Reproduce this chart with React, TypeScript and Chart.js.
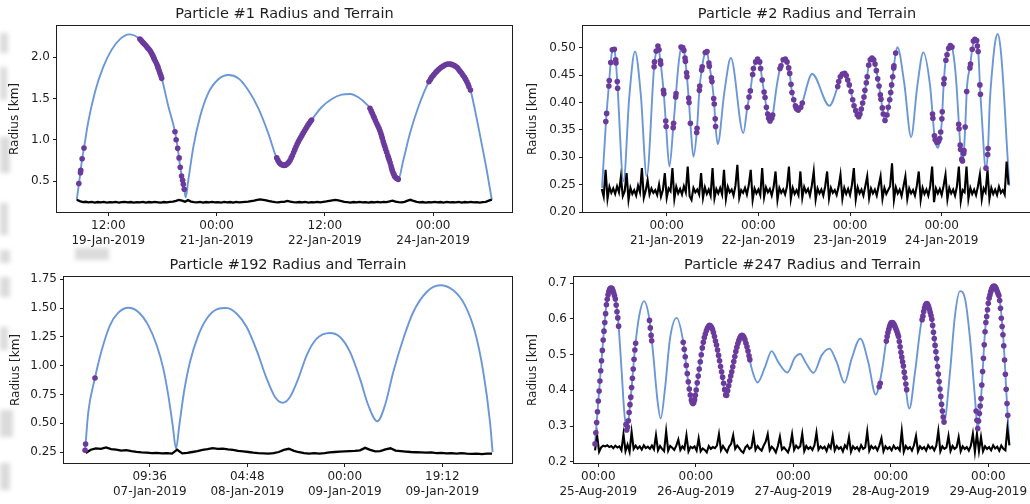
import React, { useEffect, useRef } from 'react';
import { Chart, registerables } from 'chart.js';

Chart.register(...registerables);

type Pt = [number, number];

// ---------------- Panel 1 : Particle #1 (hours from 00:00 19-Jan-2019) ----------------
const p1Title = 'Particle #1 Radius and Terrain';
const p1Radius: Pt[] = [
  [1.5,0.27],[2.26,0.47],[3.36,0.78],[3.92,0.90],[5.35,1.22],[7.58,1.58],[10.3,1.88],[13.1,2.09],[15.9,2.22],[18.9,2.278],
  [22.54,2.222],[24.77,2.128],[27.3,1.976],[29.75,1.745],[32.0,1.40],[34.17,1.098],[35.07,0.896],[35.94,0.661],[36.7,0.51],[37.3,0.39],
  [37.73,0.302],[38.6,0.51],[40.3,0.916],[42.5,1.28],[45.2,1.563],[48.6,1.733],[51.9,1.785],[55.2,1.745],[58.5,1.603],[61.9,1.38],
  [65.2,1.078],[68.0,0.78],[70.5,0.69],[73.0,0.795],[75.2,0.977],[77.4,1.118],[79.6,1.24],[82.9,1.394],[86.3,1.494],[89.6,1.547],
  [92.4,1.555],[95.1,1.515],[97.9,1.43],[99.0,1.381],[100.4,1.268],[102.0,1.139],[103.65,0.949],[105.4,0.755],[106.9,0.585],[107.9,0.533],
  [108.4,0.52],[110.1,0.755],[112.3,1.078],[115.1,1.40],[118.6,1.704],[121.3,1.834],[123.4,1.894],[125.3,1.919],[127.8,1.882],[129.5,1.806],
  [131.2,1.704],[132.4,1.603],[133.9,1.36],[136.1,0.957],[137.8,0.633],[139.5,0.27]
];
const p1Dots: Pt[] = [
  [2.2,0.47],[2.75,0.6],[2.85,0.63],[3.3,0.77],[3.92,0.9],
  [22.5,2.222],[22.9,2.206],[23.3,2.189],[23.6,2.175],[24.0,2.161],[24.4,2.145],[24.8,2.128],[25.1,2.113],[25.5,2.097],[25.9,2.078],
  [26.2,2.06],[26.5,2.04],[26.8,2.02],[27.1,1.998],[27.3,1.976],[27.7,1.948],[28.1,1.919],[28.4,1.892],[28.6,1.866],[28.9,1.836],
  [29.2,1.806],[29.5,1.775],[29.75,1.745],
  [34.17,1.098],[34.55,1.0],[35.07,0.896],[35.55,0.78],[35.92,0.667],[36.35,0.56],[36.7,0.51],[36.95,0.46],[37.25,0.40],
  [68.0,0.78],[68.4,0.75],[68.8,0.725],[69.2,0.71],[69.6,0.70],[70.0,0.693],[70.4,0.69],[70.8,0.692],[71.2,0.70],[71.6,0.712],
  [72.0,0.728],[72.4,0.748],[72.8,0.78],[73.2,0.81],[73.6,0.845],[74.0,0.88],[74.4,0.915],[74.8,0.948],[75.2,0.977],[75.6,1.005],
  [76.0,1.03],[76.4,1.056],[76.8,1.082],[77.2,1.106],[77.6,1.13],[78.0,1.155],[78.4,1.178],[78.8,1.2],[79.2,1.22],[79.6,1.24],
  [99.0,1.381],[99.4,1.35],[99.77,1.321],[100.1,1.292],[100.4,1.268],[100.8,1.234],[101.2,1.2],[101.6,1.17],[102.0,1.139],[102.3,1.108],
  [102.6,1.078],[102.85,1.048],[103.1,1.018],[103.4,0.978],[103.65,0.949],[103.9,0.92],[104.2,0.884],[104.55,0.848],[104.9,0.81],[105.15,0.78],
  [105.4,0.755],[105.7,0.72],[106.0,0.682],[106.2,0.655],[106.4,0.628],[106.65,0.603],[106.9,0.585],[107.1,0.565],[107.3,0.552],[107.6,0.54],
  [107.9,0.533],[108.15,0.526],[108.4,0.52],
  [118.6,1.704],[119.1,1.732],[119.5,1.757],[120.0,1.78],[120.4,1.797],[120.9,1.818],[121.3,1.834],[121.8,1.852],[122.3,1.866],[122.8,1.881],
  [123.4,1.894],[123.9,1.906],[124.5,1.915],[125.0,1.919],[125.6,1.919],[126.1,1.914],[126.7,1.907],[127.2,1.896],[127.8,1.882],[128.2,1.866],
  [128.6,1.846],[129.0,1.828],[129.5,1.806],[129.9,1.783],[130.4,1.757],[130.8,1.732],[131.2,1.704],[131.6,1.673],[131.9,1.643],[132.4,1.603]
];
const p1TerrainStart = 1.5;
const p1TerrainStep = 1;
const p1Terrain = [
  0.272,0.256,0.243,0.248,0.240,0.246,0.238,0.245,0.241,0.247,
  0.239,0.244,0.240,0.246,0.238,0.243,0.247,0.240,0.245,0.239,
  0.244,0.241,0.247,0.239,0.245,0.240,0.246,0.242,0.238,0.245,
  0.241,0.247,0.250,0.258,0.270,0.262,0.249,0.268,0.251,0.244,
  0.240,0.246,0.239,0.245,0.241,0.247,0.240,0.244,0.239,0.246,
  0.241,0.245,0.239,0.246,0.240,0.244,0.247,0.250,0.256,0.262,
  0.270,0.276,0.271,0.265,0.257,0.249,0.244,0.240,0.246,0.248,
  0.258,0.250,0.244,0.240,0.245,0.240,0.246,0.239,0.244,0.240,
  0.246,0.241,0.247,0.252,0.259,0.265,0.270,0.264,0.256,0.248,
  0.243,0.239,0.245,0.240,0.246,0.241,0.244,0.239,0.245,0.240,
  0.246,0.241,0.247,0.243,0.252,0.262,0.250,0.243,0.240,0.248,
  0.262,0.272,0.258,0.246,0.240,0.245,0.239,0.244,0.240,0.246,
  0.241,0.245,0.239,0.246,0.240,0.244,0.241,0.247,0.239,0.245,
  0.240,0.246,0.241,0.244,0.239,0.245,0.248,0.262,0.275
];
const p1XTicks = [12, 48, 84, 120];
const p1XLabels = [['12:00', '19-Jan-2019'], ['00:00', '21-Jan-2019'], ['12:00', '22-Jan-2019'], ['00:00', '24-Jan-2019']];
const p1YTicks = [0.5, 1.0, 1.5, 2.0];

// ---------------- Panel 2 : Particle #2 (hours from 00:00 20-Jan-2019) ----------------
const p2Title = 'Particle #2 Radius and Terrain';
const p2Radius: Pt[] = [
  [7.06,0.244],[8.1,0.365],[8.9,0.435],[9.34,0.473],[9.76,0.496],[10.0,0.499],[10.28,0.497],[10.7,0.474],[11.1,0.432],[12.7,0.256],
  [14.2,0.41],[15.7,0.493],[17.23,0.413],[18.76,0.265],[20.7,0.465],[21.25,0.494],[21.7,0.503],[22.4,0.473],[23.2,0.419],[23.8,0.361],
  [24.7,0.283],[25.75,0.358],[26.4,0.413],[27.1,0.47],[27.9,0.502],[28.5,0.495],[28.85,0.478],[29.3,0.447],[29.8,0.404],[30.3,0.352],
  [31.0,0.301],[31.9,0.349],[32.6,0.427],[33.2,0.461],[33.7,0.482],[34.3,0.494],[34.6,0.492],[35.1,0.469],[35.8,0.441],[36.4,0.40],
  [36.8,0.356],[37.35,0.324],[39.08,0.418],[40.8,0.481],[44.06,0.344],[45.1,0.391],[45.9,0.421],[46.6,0.457],[47.3,0.474],[47.8,0.479],
  [48.35,0.474],[49.0,0.441],[49.6,0.415],[50.1,0.391],[50.6,0.373],[51.05,0.366],[51.5,0.371],[51.8,0.378],[52.7,0.425],[53.67,0.462],
  [54.5,0.478],[55.05,0.479],[55.5,0.474],[56.2,0.453],[56.8,0.418],[57.7,0.394],[58.46,0.386],[59.1,0.391],[59.5,0.399],[62.1,0.452],
  [66.6,0.394],[68.78,0.429],[69.5,0.447],[70.3,0.453],[71.0,0.449],[71.8,0.432],[72.7,0.405],[73.5,0.385],[74.27,0.374],[74.96,0.388],
  [75.66,0.41],[76.3,0.438],[76.9,0.468],[77.5,0.48],[78.2,0.478],[78.9,0.458],[79.6,0.43],[80.2,0.403],[80.7,0.379],[81.16,0.367],
  [81.68,0.377],[82.4,0.405],[82.9,0.432],[83.44,0.463],[83.96,0.49],[84.4,0.501],[86.2,0.435],[88.0,0.337],[89.6,0.429],[91.2,0.491],
  [93.0,0.428],[93.65,0.375],[94.1,0.339],[94.6,0.322],[95.0,0.317],[95.5,0.33],[96.0,0.362],[96.5,0.43],[97.0,0.475],[97.6,0.495],
  [98.3,0.504],[98.7,0.501],[99.4,0.47],[99.9,0.43],[100.6,0.35],[101.0,0.31],[101.4,0.293],[101.8,0.31],[102.2,0.36],[102.6,0.425],
  [103.4,0.465],[104.0,0.497],[104.6,0.515],[105.2,0.513],[105.6,0.491],[106.1,0.42],[106.8,0.34],[107.5,0.277],[108.1,0.31],[108.6,0.4],
  [109.3,0.465],[110.0,0.51],[110.7,0.525],[111.4,0.5],[112.2,0.428],[113.0,0.33],[113.7,0.248]
];
const p2Dots: Pt[] = [
  [8.05,0.365],[8.27,0.38],[8.85,0.43],[8.95,0.44],[9.34,0.473],[9.76,0.496],[10.28,0.497],[10.64,0.478],[10.72,0.472],[11.05,0.438],[11.15,0.426],
  [20.7,0.465],[20.8,0.474],[21.25,0.494],[21.7,0.503],[22.0,0.496],[22.35,0.476],[22.45,0.47],[23.15,0.422],[23.25,0.416],[23.75,0.366],[23.85,0.356],
  [25.7,0.354],[25.8,0.362],[26.35,0.41],[26.45,0.416],[27.75,0.501],[28.2,0.5],[28.5,0.495],[28.8,0.481],[28.9,0.475],[29.2,0.454],
  [29.3,0.447],[29.75,0.408],[29.85,0.4],[30.2,0.362],[31.85,0.345],[31.95,0.353],[32.55,0.422],[32.65,0.43],[33.15,0.459],[33.3,0.465],
  [34.1,0.491],[34.55,0.493],[35.05,0.472],[35.15,0.466],[35.7,0.445],[35.85,0.438],[36.3,0.407],[36.45,0.397],[36.7,0.37],[36.8,0.356],
  [45.1,0.391],[45.55,0.41],[45.9,0.421],[46.5,0.451],[46.7,0.462],[47.3,0.474],[47.8,0.479],[48.35,0.474],[48.6,0.462],[49.0,0.441],
  [49.5,0.419],[49.75,0.409],[50.1,0.391],[50.45,0.379],[50.7,0.371],[51.05,0.366],[51.5,0.371],[51.75,0.377],
  [53.67,0.462],[53.93,0.467],[54.5,0.478],[55.05,0.479],[55.5,0.474],[55.94,0.463],[56.2,0.453],[56.55,0.433],[56.8,0.418],[57.26,0.405],
  [57.7,0.394],[57.9,0.39],[58.1,0.388],[58.46,0.386],[59.1,0.391],[59.5,0.399],
  [68.78,0.429],[69.04,0.438],[69.46,0.447],[69.98,0.452],[70.6,0.453],[71.0,0.449],[71.4,0.441],[71.8,0.432],[72.26,0.42],[72.7,0.405],
  [73.05,0.394],[73.5,0.385],[73.9,0.377],[74.27,0.374],[74.6,0.379],[74.96,0.388],[75.3,0.399],[75.66,0.41],[75.9,0.422],[76.27,0.436],
  [76.5,0.447],[76.9,0.468],[77.3,0.478],[77.75,0.481],[78.2,0.478],[78.55,0.47],[78.9,0.458],[79.25,0.443],[79.6,0.43],[79.93,0.414],
  [80.1,0.406],[80.45,0.39],[80.7,0.379],[81.16,0.367],[81.68,0.377],[82.0,0.391],[82.4,0.405],[82.65,0.418],[82.9,0.432],[83.18,0.447],
  [83.44,0.463],[83.5,0.467],[83.96,0.49],
  [93.6,0.379],[93.7,0.371],[94.1,0.339],[94.3,0.332],[94.75,0.327],[95.2,0.329],[95.5,0.334],[95.75,0.346],[96.05,0.37],[96.15,0.383],
  [96.55,0.434],[96.65,0.443],[97.1,0.477],[97.4,0.487],[97.85,0.499],[98.26,0.504],[98.7,0.501],
  [100.45,0.36],[100.55,0.352],[100.85,0.322],[100.95,0.314],[101.25,0.296],[101.45,0.293],[101.75,0.307],[101.85,0.312],[102.15,0.355],[102.55,0.42],
  [103.4,0.463],[103.55,0.47],[104.0,0.497],[104.3,0.512],[104.7,0.515],[105.15,0.513],[105.35,0.503],[105.55,0.493],[106.0,0.432],[106.15,0.415],
  [107.6,0.28],[108.05,0.305],[108.15,0.316]
];
const p2TerrainStart = 7.0;
const p2TerrainStep = 0.5;
const p2Terrain = [
  0.242,0.228,0.277,0.224,0.246,0.235,0.243,0.233,0.247,0.236,
  0.264,0.229,0.238,0.271,0.222,0.244,0.233,0.240,0.230,0.248,
  0.236,0.280,0.226,0.239,0.258,0.232,0.243,0.235,0.240,0.231,
  0.250,0.228,0.240,0.271,0.226,0.243,0.238,0.280,0.224,0.246,
  0.234,0.242,0.232,0.247,0.236,0.283,0.229,0.222,0.244,0.236,
  0.241,0.232,0.271,0.226,0.245,0.233,0.241,0.230,0.280,0.225,
  0.242,0.234,0.244,0.232,0.277,0.224,0.246,0.236,0.241,0.230,
  0.248,0.286,0.226,0.240,0.235,0.244,0.232,0.250,0.277,0.222,
  0.243,0.234,0.241,0.231,0.280,0.227,0.245,0.236,0.242,0.230,
  0.246,0.274,0.222,0.244,0.235,0.241,0.232,0.247,0.283,0.224,
  0.244,0.233,0.240,0.231,0.274,0.226,0.246,0.236,0.242,0.230,
  0.248,0.274,0.223,0.243,0.234,0.241,0.230,0.247,0.274,0.225,
  0.244,0.235,0.240,0.231,0.246,0.268,0.224,0.244,0.233,0.242,
  0.231,0.249,0.280,0.223,0.245,0.234,0.241,0.230,0.247,0.265,
  0.225,0.243,0.234,0.241,0.230,0.248,0.265,0.224,0.244,0.233,
  0.240,0.247,0.289,0.222,0.245,0.234,0.241,0.229,0.247,0.265,
  0.224,0.243,0.234,0.240,0.230,0.248,0.274,0.222,0.244,0.233,
  0.241,0.230,0.247,0.283,0.218,0.243,0.234,0.242,0.231,0.248,
  0.268,0.223,0.244,0.234,0.241,0.230,0.247,0.283,0.220,0.240,
  0.236,0.283,0.224,0.244,0.233,0.241,0.231,0.247,0.268,0.223,
  0.243,0.236,0.277,0.224,0.244,0.233,0.241,0.231,0.246,0.235,
  0.240,0.232,0.292,0.250
];
const p2XTicks = [24, 48, 72, 96];
const p2XLabels = [['00:00', '21-Jan-2019'], ['00:00', '22-Jan-2019'], ['00:00', '23-Jan-2019'], ['00:00', '24-Jan-2019']];
const p2YTicks = [0.2, 0.25, 0.3, 0.35, 0.4, 0.45, 0.5];

// ---------------- Panel 3 : Particle #192 (hours from 00:00 07-Jan-2019) ----------------
const p3Title = 'Particle #192 Radius and Terrain';
const p3Radius: Pt[] = [
  [-3.14,0.25],[-2.49,0.597],[-1.17,0.893],[0.15,1.133],[1.78,1.35],[3.42,1.46],[5.39,1.503],[7.36,1.466],[9.32,1.35],[10.98,1.177],
  [12.28,0.974],[13.26,0.742],[14.13,0.482],[14.78,0.279],[15.43,0.482],[16.35,0.771],[17.53,1.032],[19.17,1.263],[20.82,1.408],[22.79,1.489],
  [24.76,1.501],[26.73,1.451],[28.69,1.336],[30.66,1.133],[32.63,0.887],[34.27,0.728],[35.78,0.678],[37.22,0.728],[38.85,0.887],[40.5,1.09],
  [42.47,1.234],[45.09,1.284],[47.06,1.249],[49.03,1.119],[50.99,0.887],[52.63,0.656],[54.4,0.517],[55.92,0.656],[57.55,0.945],[59.52,1.234],
  [61.49,1.466],[64.13,1.64],[66.75,1.698],[69.36,1.654],[71.67,1.524],[73.64,1.292],[75.27,0.945],[76.59,0.51],[77.1,0.25]
];
const p3Dots: Pt[] = [[-3.12,0.265],[-3.02,0.32],[-1.17,0.893]];
const p3TerrainStart = -3;
const p3TerrainStep = 1;
const p3Terrain = [
  0.241,0.270,0.282,0.278,0.290,0.275,0.270,0.262,0.266,0.258,
  0.252,0.247,0.244,0.240,0.243,0.238,0.240,0.236,0.270,0.238,
  0.242,0.250,0.258,0.268,0.274,0.284,0.278,0.280,0.272,0.268,
  0.260,0.256,0.250,0.244,0.240,0.238,0.236,0.240,0.250,0.268,
  0.278,0.260,0.248,0.240,0.236,0.240,0.236,0.240,0.246,0.250,
  0.254,0.256,0.258,0.260,0.264,0.286,0.268,0.256,0.258,0.272,
  0.282,0.262,0.258,0.254,0.250,0.248,0.246,0.244,0.246,0.240,
  0.242,0.238,0.240,0.236,0.240,0.236,0.233,0.236,0.232,0.236,
  0.236
];
const p3XTicks = [9.6, 28.8, 48, 67.2];
const p3XLabels = [['09:36', '07-Jan-2019'], ['04:48', '08-Jan-2019'], ['00:00', '09-Jan-2019'], ['19:12', '09-Jan-2019']];
const p3YTicks = [0.25, 0.5, 0.75, 1.0, 1.25, 1.5, 1.75];

// ---------------- Panel 4 : Particle #247 (hours from 00:00 25-Aug-2019) ----------------
const p4Title = 'Particle #247 Radius and Terrain';
const p4Radius: Pt[] = [
  [-0.81,0.25],[0.25,0.405],[1.23,0.545],[2.07,0.648],[3.13,0.687],[4.1,0.662],[4.92,0.592],[5.76,0.451],[6.4,0.339],[6.99,0.288],
  [7.97,0.377],[9.03,0.517],[10.09,0.61],[11.25,0.65],[12.55,0.601],[13.54,0.498],[14.52,0.377],[15.36,0.321],[16.42,0.405],[17.65,0.545],
  [19.3,0.603],[20.92,0.535],[22.15,0.423],[23.24,0.363],[24.37,0.423],[25.69,0.526],[27.32,0.582],[29.14,0.526],[30.37,0.451],[31.43,0.384],
  [32.84,0.451],[34.07,0.521],[35.3,0.554],[36.53,0.526],[37.76,0.461],[39.2,0.422],[41.03,0.465],[42.68,0.51],[44.3,0.479],[46.55,0.45],
  [48.4,0.492],[49.7,0.502],[51.0,0.479],[53.0,0.449],[54.98,0.498],[56.9,0.517],[58.68,0.479],[60.6,0.421],[62.37,0.489],[64.5,0.545],
  [66.46,0.479],[68.28,0.388],[69.76,0.451],[70.99,0.545],[72.22,0.59],[73.85,0.554],[75.08,0.47],[76.56,0.349],[77.96,0.451],[79.43,0.585],
  [80.84,0.643],[82.07,0.601],[83.3,0.489],[84.53,0.358],[85.1,0.311],[86.57,0.451],[87.8,0.61],[89.04,0.678],[90.27,0.657],[91.5,0.545],
  [92.73,0.377],[93.39,0.292],[94.2,0.377],[95.19,0.564],[96.17,0.657],[97.4,0.692],[98.63,0.666],[99.7,0.545],[100.53,0.377],[101.17,0.25]
];
const p4Dots: Pt[] = [
  [-0.8,0.25],[-0.6,0.281],[-0.4,0.31],[-0.2,0.34],[0.0,0.37],[0.2,0.398],[0.4,0.426],[0.6,0.455],[0.8,0.483],[1.0,0.512],
  [1.2,0.541],[1.4,0.566],[1.6,0.59],[1.8,0.615],[2.0,0.64],[2.2,0.655],[2.4,0.668],[2.6,0.677],[2.8,0.683],[3.0,0.686],
  [3.2,0.687],[3.4,0.685],[3.6,0.68],[3.8,0.673],[4.0,0.665],[4.2,0.656],[4.4,0.639],[4.6,0.62],[4.8,0.603],[5.0,0.58],
  [6.8,0.304],[7.0,0.289],[7.2,0.297],[7.4,0.315],[7.6,0.338],[7.8,0.36],[8.0,0.381],[8.2,0.408],[8.4,0.434],[8.6,0.46],
  [8.8,0.487],[9.0,0.513],[9.2,0.532],
  [12.6,0.596],[12.8,0.575],[13.0,0.554],[13.15,0.539],
  [20.9,0.535],[21.15,0.515],[21.4,0.494],[21.65,0.47],[21.9,0.447],[22.15,0.424],[22.4,0.404],[22.65,0.387],[22.9,0.373],[23.1,0.366],
  [23.3,0.363],[23.5,0.366],[23.7,0.374],[23.9,0.386],[24.1,0.401],[24.35,0.421],[24.6,0.44],[24.85,0.46],[25.1,0.48],[25.35,0.5],
  [25.6,0.519],[25.85,0.535],[26.1,0.548],[26.35,0.558],[26.6,0.567],[26.85,0.574],[27.1,0.579],[27.35,0.582],[27.6,0.581],[27.85,0.577],
  [28.1,0.571],[28.35,0.562],[28.6,0.551],[28.85,0.538],[29.1,0.527],[29.35,0.513],[29.6,0.498],[29.85,0.483],[30.1,0.467],[30.35,0.452],
  [30.6,0.437],[30.85,0.42],[31.1,0.402],[31.35,0.387],[31.6,0.386],[31.85,0.399],[32.1,0.413],[32.35,0.427],[32.6,0.44],[32.85,0.452],
  [33.1,0.466],[33.35,0.481],[33.6,0.495],[33.85,0.509],[34.1,0.521],[34.35,0.531],[34.6,0.54],[34.85,0.547],[35.1,0.552],[35.35,0.554],
  [35.6,0.553],[35.85,0.549],[36.1,0.542],[36.35,0.532],[36.6,0.522],[36.85,0.51],[37.1,0.497],[37.3,0.486],
  [69.15,0.41],[69.4,0.42],
  [70.9,0.538],[71.1,0.551],[71.3,0.562],[71.5,0.571],[71.7,0.579],[71.9,0.585],[72.1,0.589],[72.3,0.59],[72.5,0.589],[72.7,0.586],
  [72.9,0.582],[73.1,0.577],[73.3,0.571],[73.5,0.565],[73.7,0.558],[73.9,0.551],[74.1,0.537],[74.3,0.522],[74.5,0.507],[74.7,0.493],
  [74.9,0.48],[75.1,0.468],[75.3,0.451],[75.5,0.435],[75.7,0.418],[75.9,0.402],
  [79.7,0.598],[79.9,0.608],[80.1,0.621],[80.3,0.631],[80.5,0.638],[80.7,0.642],[80.9,0.643],[81.1,0.64],[81.3,0.635],[81.5,0.627],
  [81.7,0.619],[81.9,0.61],[82.1,0.599],[82.3,0.582],[82.5,0.563],[82.7,0.545],[82.9,0.526],[83.1,0.508],[83.3,0.489],[83.5,0.467],
  [83.7,0.446],[83.9,0.425],[84.1,0.404],[84.3,0.383],[84.5,0.361],[84.7,0.342],[84.9,0.325],[85.1,0.311],
  [93.0,0.342],[93.2,0.316],[93.4,0.293],[93.6,0.314],[93.8,0.335],[94.0,0.356],[94.2,0.377],[94.4,0.415],[94.6,0.453],[94.8,0.49],
  [95.0,0.528],[95.2,0.564],[95.4,0.59],[95.6,0.607],[95.8,0.626],[96.0,0.644],[96.2,0.658],[96.4,0.667],[96.6,0.676],[96.8,0.683],
  [97.0,0.688],[97.2,0.691],[97.4,0.692],[97.6,0.691],[97.8,0.688],[98.0,0.683],[98.2,0.677],[98.4,0.671],[98.6,0.666],[98.8,0.652],
  [99.0,0.63],[99.2,0.602],[99.4,0.579],[99.6,0.556],[99.8,0.525],[100.0,0.485],[100.2,0.445],[100.4,0.403],[100.6,0.363],[100.8,0.33]
];
const p4TerrainStart = -0.8;
const p4TerrainStep = 0.5;
const p4Terrain = [
  0.232,0.274,0.228,0.240,0.245,0.243,0.246,0.241,0.244,0.238,
  0.245,0.240,0.243,0.232,0.277,0.230,0.248,0.228,0.283,0.236,
  0.245,0.237,0.243,0.234,0.246,0.238,0.242,0.236,0.245,0.235,
  0.274,0.232,0.244,0.236,0.230,0.285,0.231,0.244,0.239,0.233,
  0.245,0.262,0.233,0.243,0.236,0.274,0.229,0.242,0.238,0.243,
  0.231,0.265,0.229,0.237,0.233,0.226,0.244,0.236,0.241,0.238,
  0.245,0.277,0.232,0.244,0.235,0.227,0.242,0.250,0.274,0.236,
  0.245,0.238,0.230,0.225,0.240,0.246,0.236,0.240,0.274,0.233,
  0.244,0.236,0.231,0.245,0.256,0.277,0.232,0.242,0.236,0.226,
  0.244,0.270,0.234,0.240,0.233,0.226,0.244,0.277,0.233,0.245,
  0.238,0.243,0.278,0.230,0.244,0.236,0.241,0.233,0.246,0.281,
  0.234,0.243,0.237,0.242,0.230,0.247,0.238,0.272,0.232,0.244,
  0.236,0.241,0.229,0.246,0.238,0.269,0.228,0.243,0.236,0.241,
  0.231,0.246,0.236,0.240,0.284,0.231,0.244,0.237,0.242,0.232,
  0.246,0.266,0.229,0.243,0.236,0.241,0.232,0.245,0.236,0.240,
  0.232,0.286,0.228,0.244,0.236,0.241,0.231,0.246,0.272,0.229,
  0.243,0.236,0.241,0.231,0.246,0.237,0.242,0.232,0.245,0.286,
  0.229,0.243,0.236,0.240,0.272,0.230,0.244,0.236,0.241,0.269,
  0.229,0.243,0.236,0.241,0.231,0.245,0.278,0.228,0.278,0.230,
  0.269,0.229,0.243,0.236,0.241,0.232,0.246,0.237,0.242,0.231,
  0.245,0.236,0.232,0.293,0.246
];
const p4XTicks = [0, 24, 48, 72, 96];
const p4XLabels = [['00:00', '25-Aug-2019'], ['00:00', '26-Aug-2019'], ['00:00', '27-Aug-2019'], ['00:00', '28-Aug-2019'], ['00:00', '29-Aug-2019']];
const p4YTicks = [0.2, 0.3, 0.4, 0.5, 0.6, 0.7];

// ---------------- styling / layout ----------------
const FONT = 'DejaVu Sans';
const TEXT = '#1e1e1e';
const BLUE = '#6b97d8';
const PURPLE = '#6a3a9c';
const TERRAIN = '#000000';

interface PanelSpec {
  title: string;
  radius: Pt[];
  dots: Pt[];
  terrainStart: number;
  terrainStep: number;
  terrain: number[];
  terrainWidth: number;
  xMin: number; xMax: number; xTicks: number[]; xLabels: string[][];
  yMin: number; yMax: number; yTicks: number[]; yDecimals: number;
  x: number; y: number; w: number; h: number;
  areaLeft: number; areaRight: number; areaTop: number; areaBottom: number;
  titleY: number; yTitleX: number;
}

const panels: PanelSpec[] = [
  {
    title: p1Title, radius: p1Radius, dots: p1Dots, terrainStart: p1TerrainStart, terrainStep: p1TerrainStep, terrain: p1Terrain, terrainWidth: 2.3,
    xMin: -5.05, xMax: 146.21, xTicks: p1XTicks, xLabels: p1XLabels,
    yMin: 0.1241, yMax: 2.3795, yTicks: p1YTicks, yDecimals: 1,
    x: 0, y: 0, w: 515, h: 252, areaLeft: 57, areaRight: 512, areaTop: 26, areaBottom: 212, titleY: 14, yTitleX: 15,
  },
  {
    title: p2Title, radius: p2Radius, dots: p2Dots, terrainStart: p2TerrainStart, terrainStep: p2TerrainStep, terrain: p2Terrain, terrainWidth: 2.1,
    xMin: 2.08, xMax: 119.39, xTicks: p2XTicks, xLabels: p2XLabels,
    yMin: 0.2, yMax: 0.5395, yTicks: p2YTicks, yDecimals: 2,
    x: 515, y: 0, w: 520, h: 252, areaLeft: 68, areaRight: 516, areaTop: 26, areaBottom: 212, titleY: 14, yTitleX: 18.3,
  },
  {
    title: p3Title, radius: p3Radius, dots: p3Dots, terrainStart: p3TerrainStart, terrainStep: p3TerrainStep, terrain: p3Terrain, terrainWidth: 2.3,
    xMin: -7.27, xMax: 80.92, xTicks: p3XTicks, xLabels: p3XLabels,
    yMin: 0.1545, yMax: 1.770, yTicks: p3YTicks, yDecimals: 2,
    x: 0, y: 252, w: 515, h: 252, areaLeft: 64, areaRight: 512, areaTop: 25, areaBottom: 211, titleY: 13, yTitleX: 16,
  },
  {
    title: p4Title, radius: p4Radius, dots: p4Dots, terrainStart: p4TerrainStart, terrainStep: p4TerrainStep, terrain: p4Terrain, terrainWidth: 2.1,
    xMin: -5.98, xMax: 106.51, xTicks: p4XTicks, xLabels: p4XLabels,
    yMin: 0.1964, yMax: 0.7177, yTicks: p4YTicks, yDecimals: 1,
    x: 515, y: 252, w: 520, h: 252, areaLeft: 59, areaRight: 516, areaTop: 25, areaBottom: 211, titleY: 13, yTitleX: 18.3,
  },
];

// faint grey smudges along the left edge of the picture
const smudges = [
  { x: 0, y: 33, w: 8, h: 20 }, { x: 0, y: 67, w: 7, h: 33 }, { x: 0, y: 137, w: 10, h: 36 },
  { x: 0, y: 203, w: 8, h: 32 }, { x: 75, y: 248, w: 34, h: 12 }, { x: 0, y: 250, w: 10, h: 13 },
  { x: 0, y: 277, w: 10, h: 20 }, { x: 0, y: 327, w: 8, h: 23 }, { x: 0, y: 410, w: 13, h: 27 },
  { x: 0, y: 463, w: 10, h: 27 },
];

const boxPlugin = {
  id: 'axesBox',
  afterDraw(chart: any) {
    const { ctx, chartArea: a } = chart;
    ctx.save();
    ctx.strokeStyle = TEXT;
    ctx.lineWidth = 1;
    const l = Math.floor(a.left) - 0.5;
    const t = Math.floor(a.top) - 0.5;
    const r = Math.floor(a.right) + 0.5;
    const b = Math.floor(a.bottom) + 0.5;
    ctx.strokeRect(l, t, r - l, b - t);
    ctx.restore();
  },
};

function Panel({ spec }: { spec: PanelSpec }) {
  const ref = useRef<HTMLCanvasElement>(null);
  useEffect(() => {
    const s = spec;
    const titleSize = 14.5;
    const lh = titleSize * 1.2;
    const titlePadTop = s.titleY - lh / 2;
    const titlePadBottom = s.areaTop - titlePadTop - lh;
    const tickFont = { family: FONT, size: 12 };
    const chart = new Chart(ref.current as HTMLCanvasElement, {
      type: 'line',
      data: {
        datasets: [
          {
            data: s.dots.map(([x, y]) => ({ x, y })),
            showLine: false,
            pointRadius: 2.8,
            pointHoverRadius: 2.8,
            pointBorderWidth: 0,
            pointBackgroundColor: PURPLE,
            borderColor: PURPLE,
            backgroundColor: PURPLE,
          },
          {
            data: s.terrain.map((y, i) => ({ x: s.terrainStart + i * s.terrainStep, y })),
            borderColor: TERRAIN,
            borderWidth: s.terrainWidth,
            borderJoinStyle: 'miter',
            pointRadius: 0,
            tension: 0,
          },
          {
            data: s.radius.map(([x, y]) => ({ x, y })),
            borderColor: BLUE,
            borderWidth: 1.9,
            pointRadius: 0,
            cubicInterpolationMode: 'monotone',
          },
        ],
      } as any,
      options: {
        animation: false,
        responsive: false,
        events: [],
        layout: { padding: { left: 0, top: 0, right: s.w - s.areaRight, bottom: 0 } },
        plugins: {
          legend: { display: false },
          tooltip: { enabled: false },
          title: {
            display: true,
            text: s.title,
            fullSize: false,
            color: TEXT,
            font: { family: FONT, size: titleSize, weight: 'normal' },
            padding: { top: titlePadTop, bottom: titlePadBottom },
          },
        },
        scales: {
          x: {
            type: 'linear',
            min: s.xMin,
            max: s.xMax,
            afterBuildTicks: (sc: any) => { sc.ticks = s.xTicks.map((v) => ({ value: v })); },
            afterFit: (sc: any) => { sc.height = s.h - s.areaBottom; },
            ticks: {
              autoSkip: false, maxRotation: 0, minRotation: 0, padding: 3, color: TEXT, font: tickFont,
              callback: (_v: any, i: number) => s.xLabels[i],
            },
            grid: { drawOnChartArea: false, drawTicks: true, tickLength: 4, color: TEXT, lineWidth: 1 },
            border: { display: false },
          },
          y: {
            type: 'linear',
            min: s.yMin,
            max: s.yMax,
            afterBuildTicks: (sc: any) => { sc.ticks = s.yTicks.map((v) => ({ value: v })); },
            afterFit: (sc: any) => { sc.width = s.areaLeft; },
            ticks: {
              padding: 3, color: TEXT, font: tickFont,
              callback: (v: any) => Number(v).toFixed(s.yDecimals),
            },
            grid: { drawOnChartArea: false, drawTicks: true, tickLength: 4, color: TEXT, lineWidth: 1 },
            border: { display: false },
            title: {
              display: true,
              text: 'Radius [km]',
              color: TEXT,
              font: { family: FONT, size: 12 },
              padding: { top: s.yTitleX - 7.2, bottom: 0 },
            },
          },
        },
      } as any,
      plugins: [boxPlugin],
    });
    return () => chart.destroy();
  }, [spec]);
  return (
    <canvas
      ref={ref}
      width={spec.w}
      height={spec.h}
      style={{ position: 'absolute', left: spec.x, top: spec.y, width: spec.w, height: spec.h, display: 'block' }}
    />
  );
}

export default function App() {
  return (
    <div style={{ position: 'fixed', left: 0, top: 0, width: 1030, height: 504, overflow: 'hidden', background: '#ffffff' }}>
      {smudges.map((m, i) => (
        <div
          key={'s' + i}
          style={{
            position: 'absolute', left: m.x, top: m.y, width: m.w, height: m.h,
            background: '#cfcfcf', filter: 'blur(2px)', opacity: 0.75,
          }}
        />
      ))}
      {panels.map((p, i) => (
        <Panel key={i} spec={p} />
      ))}
    </div>
  );
}
